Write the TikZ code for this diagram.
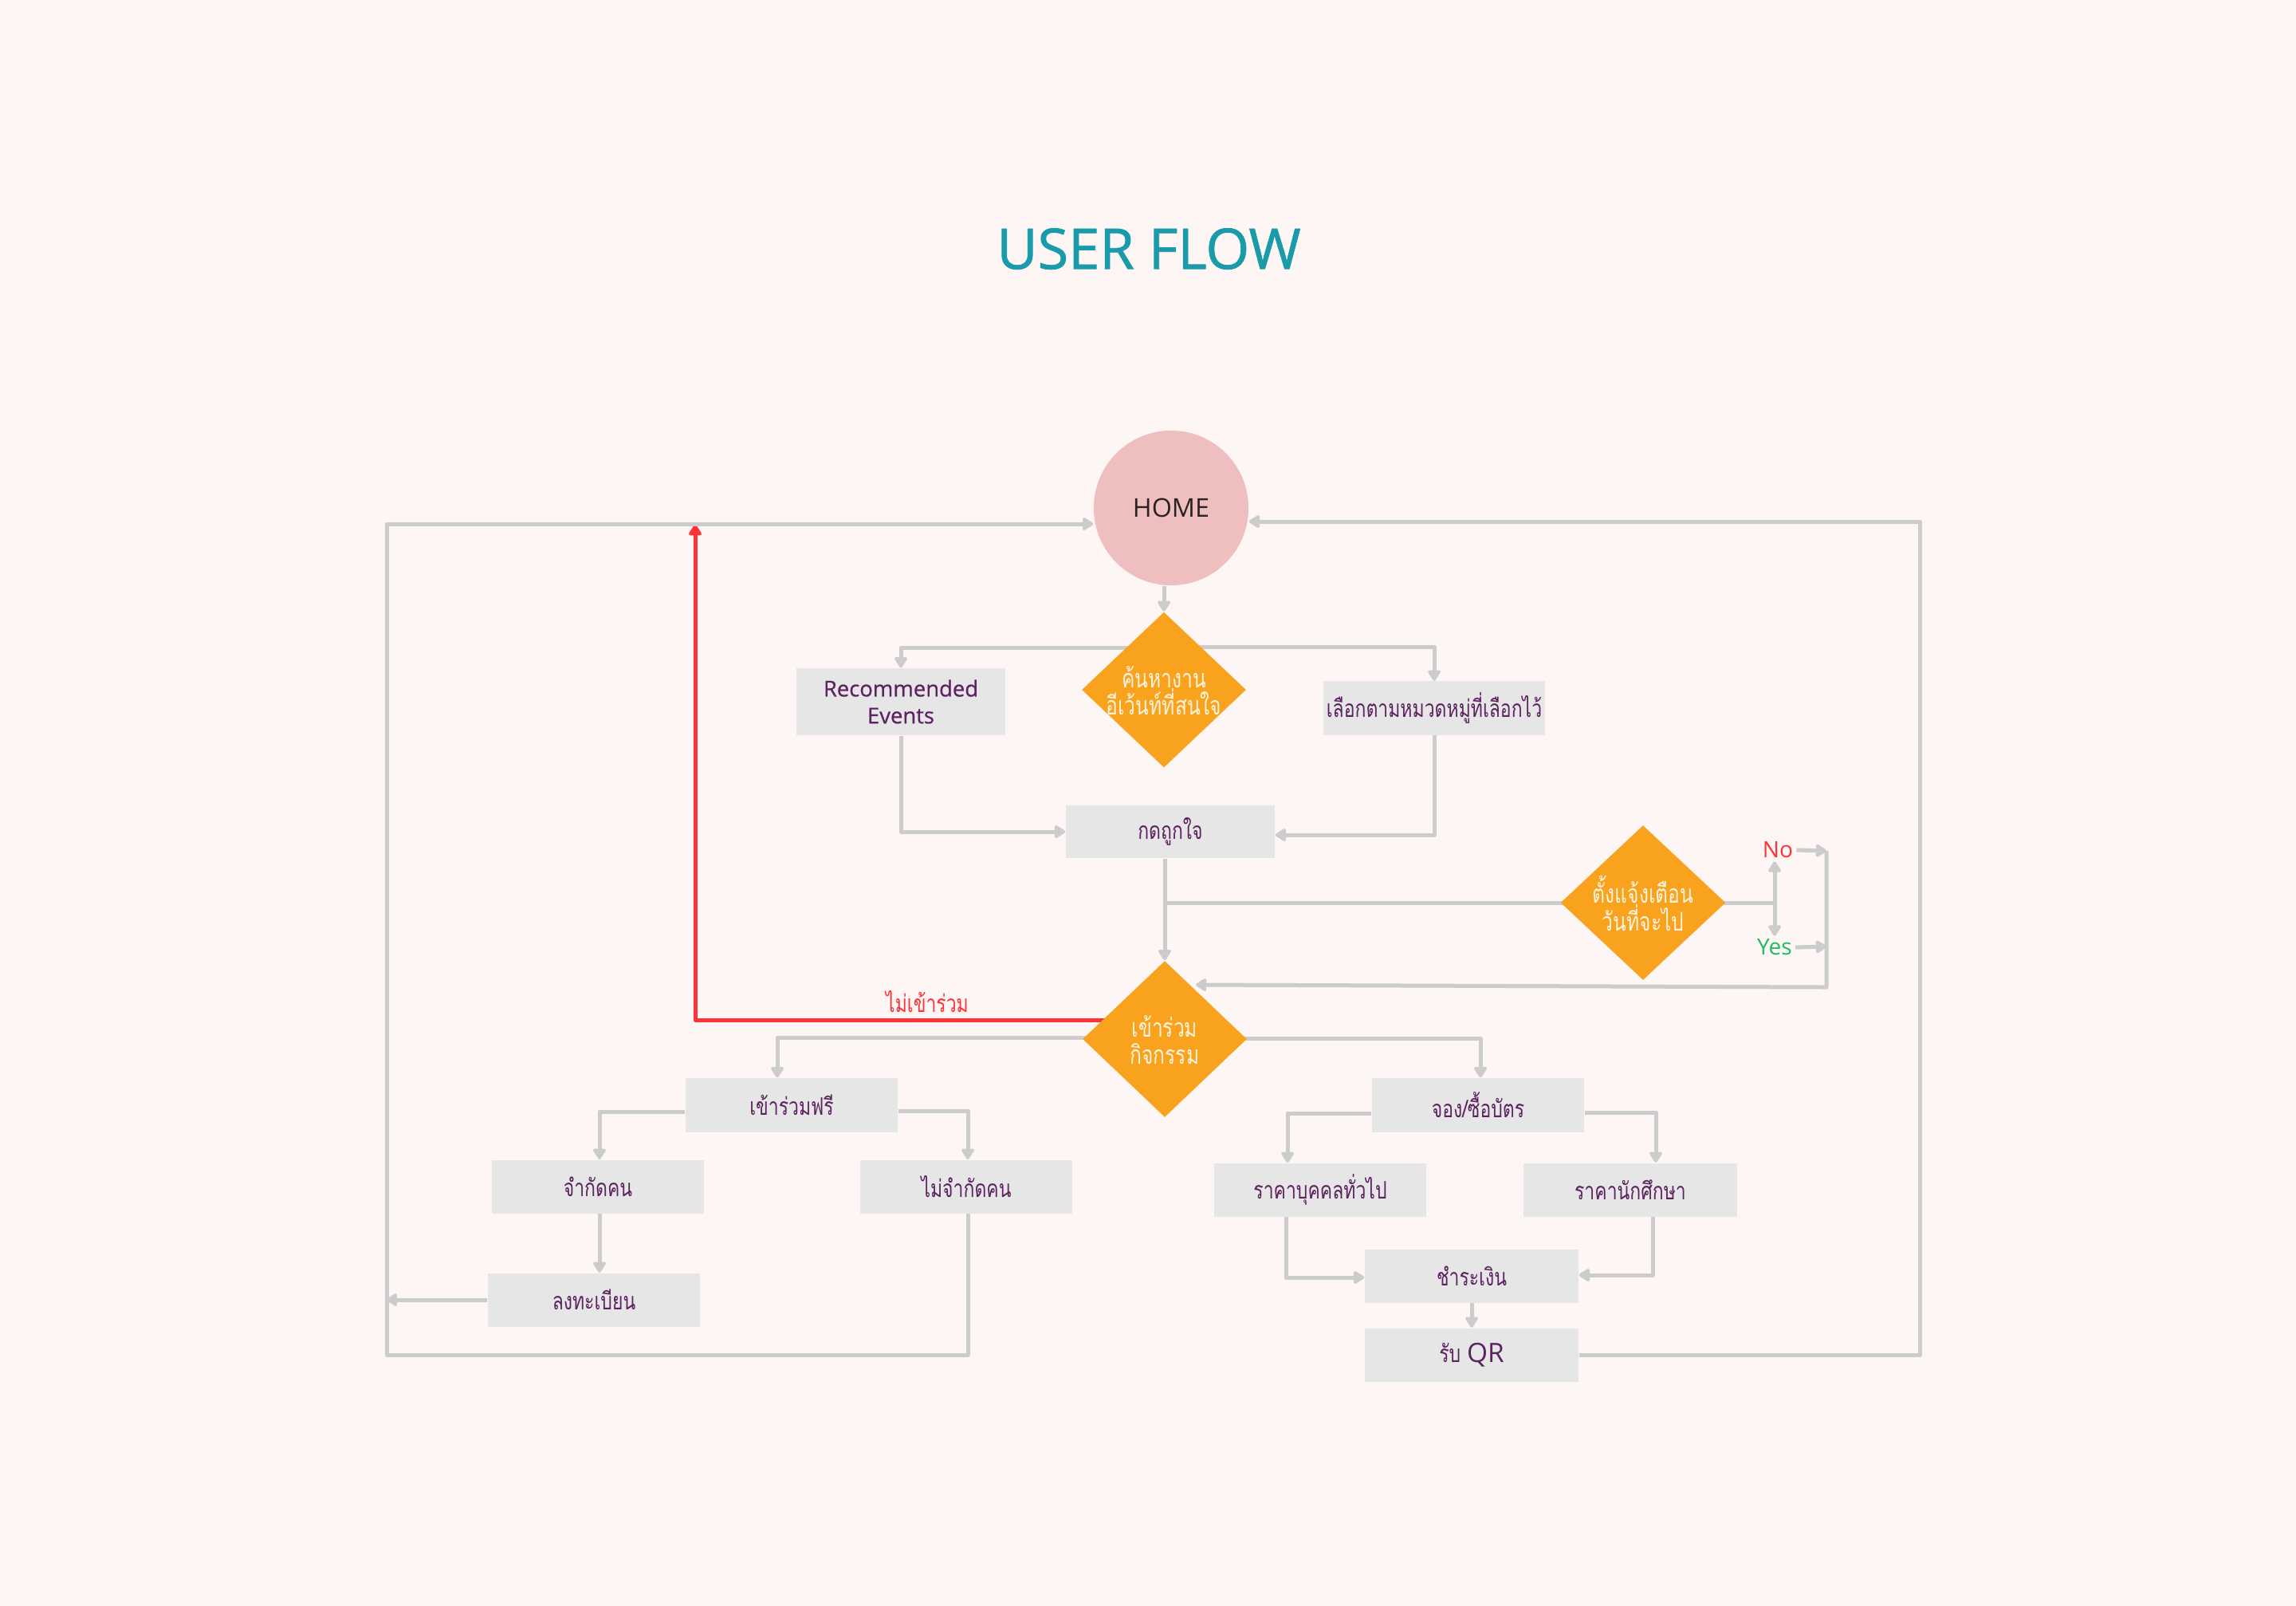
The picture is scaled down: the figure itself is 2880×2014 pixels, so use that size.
\documentclass[tikz,border=0pt]{standalone}
\usepackage{fontspec}
\setmainfont{Open Sans}
\newfontfamily\thaifont[Script=Thai,FakeStretch=0.76]{Loma}
\usetikzlibrary{shapes.geometric,arrows.meta}
\pgfdeclarelayer{bglayer}
\pgfdeclarelayer{background}
\pgfsetlayers{bglayer,background,main}
\definecolor{bgc}{HTML}{FEF6F4}
\definecolor{teal}{HTML}{1A9BAA}
\definecolor{homec}{HTML}{EFBFBF}
\definecolor{boxc}{HTML}{E6E6E6}
\definecolor{orangec}{HTML}{F8A21E}
\definecolor{purp}{HTML}{5C2360}
\definecolor{linec}{HTML}{CCCCCC}
\definecolor{redc}{HTML}{FF3336}
\definecolor{greenc}{HTML}{1DBF5E}
\definecolor{creamc}{HTML}{FFF3DC}
\tikzset{
  x=0.01cm,y=-0.01cm,
  stepbox/.style={rectangle,fill=boxc,inner sep=0pt,minimum width=2.66cm,minimum height=0.67cm,
    font=\thaifont\fontsize{8.6}{11}\selectfont,text=purp,align=center},
  decision/.style={diamond,fill=orangec,inner sep=0pt,minimum width=2.06cm,minimum height=1.95cm},
  dtext/.style={font=\thaifont\fontsize{9.2}{9.8}\selectfont,text=creamc,align=center,inner sep=0pt},
  conn/.style={draw=linec,line width=0.05cm,line join=round},
  arr/.style={conn,-{Triangle[length=0.15cm,width=0.18cm,round]}},
  redarr/.style={draw=redc,line width=0.05cm,line join=round,-{Triangle[length=0.15cm,width=0.18cm,round]}},
}
\begin{document}
\begin{tikzpicture}
\begin{pgfonlayer}{bglayer}
\fill[bgc] (0,0) rectangle (2880,2014);
\end{pgfonlayer}
\useasboundingbox (0,0) rectangle (2880,2014);

\node[font=\fontsize{20}{24}\selectfont\addfontfeature{FakeBold=1.2},text=teal] (title) at (1441,312) {USER FLOW};

\node[circle,fill=homec,minimum size=1.94cm,inner sep=0pt,font=\fontsize{9.2}{11}\selectfont,text={rgb,255:red,43;green,35;blue,35}] (home) at (1469,637) {HOME};

\node[decision] (d1) at (1460,865) {};
\node[dtext] (d1t) at (1460,866) {ค้นหางาน\\อีเว้นท์ที่สนใจ};
\node[stepbox,minimum width=2.62cm,minimum height=0.84cm,font=\fontsize{7.8}{9.6}\selectfont\addfontfeature{FakeBold=0.6}] (rec) at (1130,880) {Recommended\\Events};
\node[stepbox,minimum width=2.78cm] (sel) at (1799,888) {เลือกตามหมวดหมู่ที่เลือกไว้};
\node[stepbox,minimum width=2.62cm,minimum height=0.66cm] (like) at (1468,1043) {กดถูกใจ};
\node[decision,minimum height=1.96cm] (d2) at (1461,1303) {};
\node[dtext] (d2t) at (1461,1304) {เข้าร่วม\\กิจกรรม};
\node[decision,minimum width=2.07cm,minimum height=1.94cm] (d3) at (2061,1132) {};
\node[dtext] (d3t) at (2061,1133) {ตั้งแจ้งเตือน\\วันที่จะไป};
\node[text=redc,font=\fontsize{8}{10}\selectfont,inner sep=1pt] (no) at (2230,1066) {No};
\node[text=greenc,font=\fontsize{8}{10}\selectfont,inner sep=1pt] (yes) at (2226,1188) {Yes};
\node[text=redc,font=\thaifont\fontsize{8.6}{11}\selectfont,inner sep=1pt] (notjoin) at (1163,1256) {ไม่เข้าร่วม};

\node[stepbox,minimum height=0.68cm] (free) at (993,1386) {เข้าร่วมฟรี};
\node[stepbox] (limit) at (750,1488) {จำกัดคน};
\node[stepbox] (nolimit) at (1212,1488) {ไม่จำกัดคน};
\node[stepbox] (reg) at (745,1630) {ลงทะเบียน};
\node[stepbox,minimum height=0.68cm] (book) at (1854,1386) {จอง/ซื้อบัตร};
\node[stepbox] (gen) at (1656,1492) {ราคาบุคคลทั่วไป};
\node[stepbox,minimum width=2.67cm] (stu) at (2045,1492) {ราคานักศึกษา};
\node[stepbox,minimum width=2.68cm] (pay) at (1846,1600) {ชำระเงิน};
\node[stepbox,minimum width=2.68cm] (qr) at (1846,1699) {รับ {\fontspec{Open Sans}\fontsize{9.5}{11}\selectfont QR}};

\coordinate (c1) at (1130,812);
\coordinate (c2) at (1799,811);
\coordinate (c3) at (1799,1047);
\coordinate (j1) at (1461,1132);
\coordinate (j2) at (2226,1132);
\coordinate (r1) at (2291,1067);
\coordinate (r2) at (2291,1187);
\coordinate (r3) at (2291,1238);
\coordinate (d2in) at (1500,1235);
\coordinate (rd1) at (872,1279);
\coordinate (rt) at (872,658);
\coordinate (c4) at (975,1301);
\coordinate (c5) at (1857,1302);
\coordinate (c6) at (752,1394);
\coordinate (c7) at (1214,1393);
\coordinate (c8) at (1615,1396);
\coordinate (c9) at (2077,1395);
\coordinate (c10) at (1613,1602);
\coordinate (c11) at (2073,1599);
\coordinate (fl1) at (485,657);
\coordinate (fl2) at (485,1699);
\coordinate (fr1) at (2408,1699);
\coordinate (fr2) at (2408,654);

\begin{pgfonlayer}{background}
\draw[arr] (home.south -| d1.north) -- (d1.north);
\draw[arr] (d1.center |- c1) -- (c1) -- (rec.north);
\draw[arr] (d1.center |- c2) -- (c2) -- (sel.north);
\draw[arr] (rec.south) |- (like.west);
\draw[arr] (sel.south) -- (c3) -- (like.east |- c3);
\draw[arr] (like.south -| d2.north) -- (d2.north);
\draw[conn] (d3.center) -- (j1);
\draw[conn] (d3.center) -- (j2);
\draw[arr] (j2) -- (no.south -| j2);
\draw[arr] (j2) -- (yes.north -| j2);
\draw[arr] (no.east) -- (r1);
\draw[arr] (yes.east) -- (r2);
\draw[arr] (r1) -- (r3) -- (d2in);
\draw[redarr] (d2.center |- rd1) -- (rd1) -- (rt);
\draw[arr] (d2.center |- c4) -- (c4) -- (c4 |- free.north);
\draw[arr] (d2.center |- c5) -- (c5) -- (c5 |- book.north);
\draw[arr] (free.west |- c6) -- (c6) -- (c6 |- limit.north);
\draw[arr] (free.east |- c7) -- (c7) -- (c7 |- nolimit.north);
\draw[arr] (limit.south -| c6) -- (c6 |- reg.north);
\draw[arr] (reg.west) -- (reg.west -| fl1);
\draw[arr] (nolimit.south -| c7) -- (c7 |- fl2) -- (fl2) -- (fl1) -- (home.west |- fl1);
\draw[arr] (book.west |- c8) -- (c8) -- (c8 |- gen.north);
\draw[arr] (book.east |- c9) -- (c9) -- (c9 |- stu.north);
\draw[arr] (gen.south -| c10) -- (c10) -- (pay.west |- c10);
\draw[arr] (stu.south -| c11) -- (c11) -- (pay.east |- c11);
\draw[arr] (pay.south) -- (qr.north);
\draw[arr] (qr.east) -- (fr1) -- (fr2) -- (home.east |- fr2);
\end{pgfonlayer}
\end{tikzpicture}
\end{document}
